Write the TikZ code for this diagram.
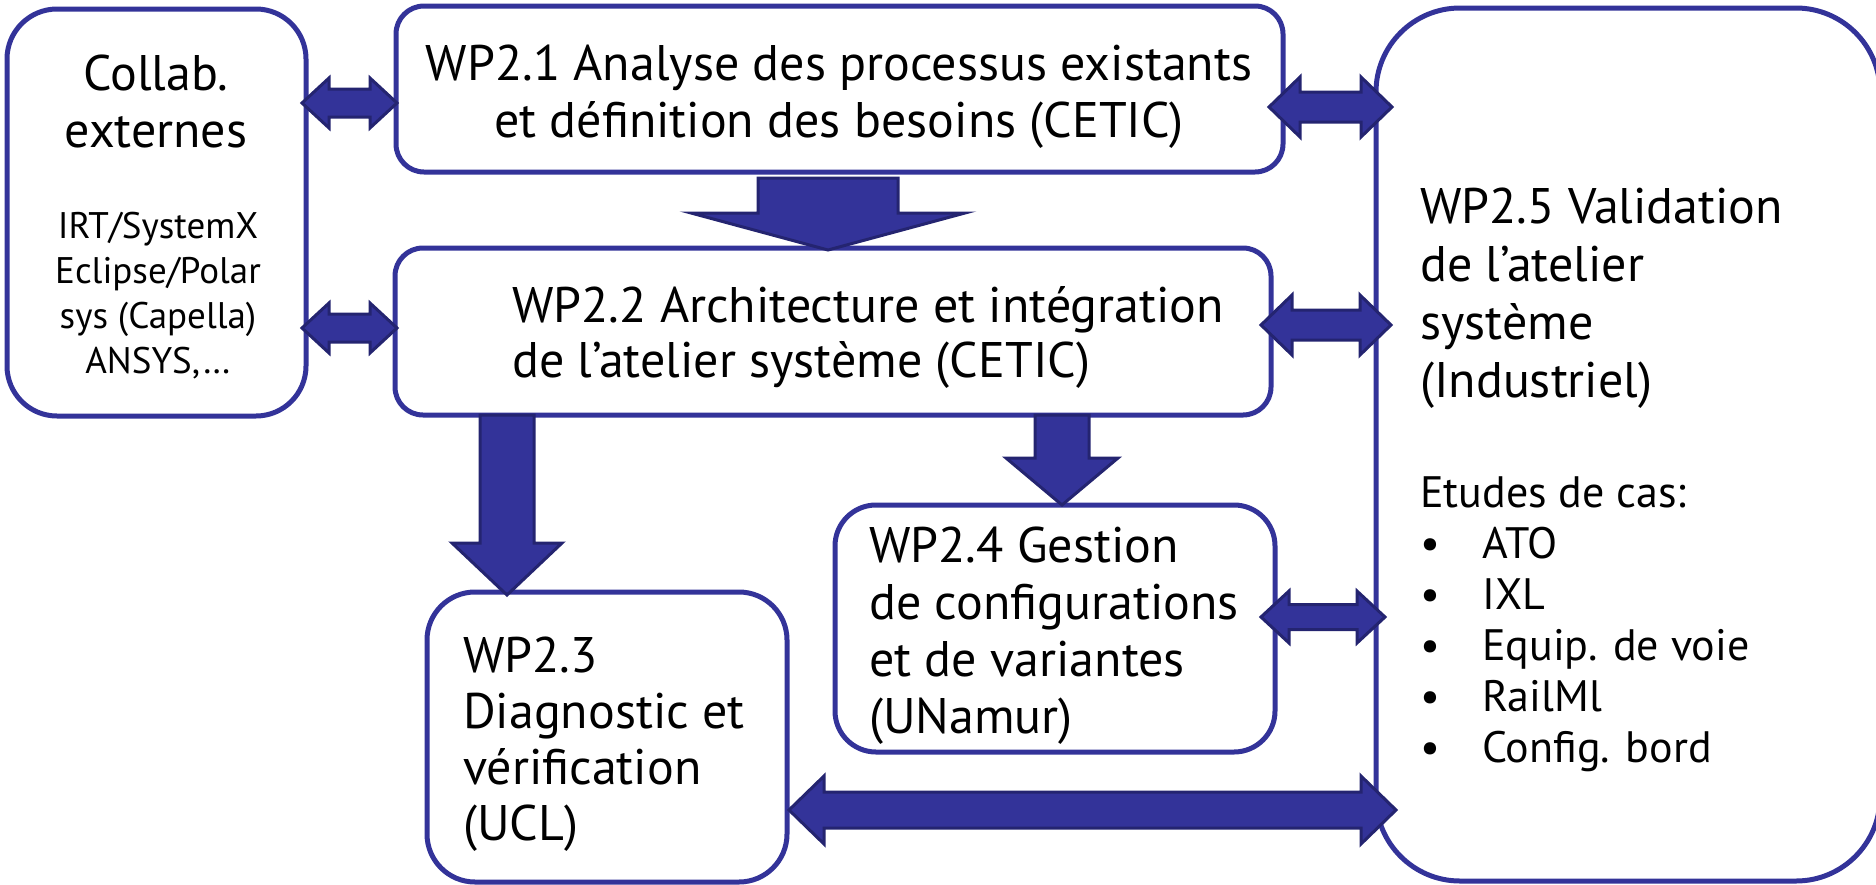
\documentclass[tikz,border=0pt]{standalone}
\usepackage{fontspec}
\setmainfont{PT Sans}
\usetikzlibrary{calc}
\definecolor{wpblue}{RGB}{51,51,153}
\definecolor{wpedge}{RGB}{36,36,112}

\tikzset{
  wpbox/.style={rectangle, draw=wpblue, line width=5pt, fill=white,
    inner sep=0pt, outer sep=0pt},
  blockarrow/.style={fill=wpblue, draw=wpedge, line width=3pt, line join=miter},
  bigtext/.style={inner sep=0pt, font=\fontsize{50}{57}\selectfont},
  smalltext/.style={inner sep=0pt, font=\fontsize{37}{45}\selectfont},
  listtext/.style={inner sep=0pt, font=\fontsize{44}{51}\selectfont},
}

% horizontal double block arrow: #1 left tip, #2 right tip,
% #3 half shaft, #4 half head, #5 head length
\newcommand{\dblockarrow}[5]{%
  \filldraw[blockarrow] (#1) -- ($(#1)+(#5,-#4)$) -- ($(#1)+(#5,-#3)$)
    -- ($(#2)+(-#5,-#3)$) -- ($(#2)+(-#5,-#4)$) -- (#2)
    -- ($(#2)+(-#5,#4)$) -- ($(#2)+(-#5,#3)$)
    -- ($(#1)+(#5,#3)$) -- ($(#1)+(#5,#4)$) -- cycle;}

% downward block arrow: #1 top of shaft, #2 tip,
% #3 half shaft, #4 half head, #5 head length
\newcommand{\downblockarrow}[5]{%
  \filldraw[blockarrow] ($(#1)+(-#3,0)$) -- ($(#1)+(#3,0)$)
    -- ($(#2)+(#3,-#5)$) -- ($(#2)+(#4,-#5)$) -- (#2)
    -- ($(#2)+(-#4,-#5)$) -- ($(#2)+(-#3,-#5)$) -- cycle;}

\begin{document}
\begin{tikzpicture}[x=1pt, y=-1pt]
\useasboundingbox (0,0) rectangle (1876,884);

% work-package boxes
\node[wpbox, minimum width=299pt, minimum height=407pt, rounded corners=50pt]
  (collab) at (156.5,212.5) {};
\node[wpbox, minimum width=887pt, minimum height=166pt, rounded corners=28pt]
  (wp21) at (839.5,89) {};
\node[wpbox, minimum width=876pt, minimum height=167pt, rounded corners=28pt]
  (wp22) at (833,331.5) {};
\node[wpbox, minimum width=360pt, minimum height=290pt, rounded corners=48pt]
  (wp23) at (607,737) {};
\node[wpbox, minimum width=440pt, minimum height=247pt, rounded corners=41pt]
  (wp24) at (1055,628.5) {};
\node[wpbox, minimum width=504pt, minimum height=873pt, rounded corners=84pt]
  (wp25) at (1628,444.5) {};

% links with the external partners
\dblockarrow{$(collab.east |- wp21.west)+(-4,14)$}{$(wp21.west)+(1,14)$}{14}{25}{27}
\dblockarrow{$(collab.east |- wp22.west)+(-4,-3.5)$}{$(wp22.west)+(2,-3.5)$}{14}{25}{27}

% links with the validation package
\dblockarrow{$(wp21.east)+(-14,18)$}{$(wp25.west |- wp21.east)+(16,18)$}{15}{30}{31}
\dblockarrow{$(wp22.east)+(-10,-6.5)$}{$(wp25.west |- wp22.east)+(15,-6.5)$}{15}{30}{31}
\dblockarrow{$(wp24.east)+(-14,-11.5)$}{$(wp25.west |- wp24.east)+(9,-11.5)$}{12.5}{26}{28}
\dblockarrow{$(wp23.east)+(2,73)$}{$(wp25.west |- wp23.east)+(20,73)$}{18}{34}{35}

% flow between the packages
\downblockarrow{$(wp21.south)+(-11.5,6)$}{$(wp22.north)+(-5,2)$}{70}{137}{37}
\downblockarrow{$(wp22.south -| wp23.north)+(-100,0)$}{$(wp23.north)+(-100,3)$}{27}{55}{52}
\downblockarrow{$(wp22.south -| wp24.north)+(7,0)$}{$(wp24.north)+(7,0)$}{27}{56}{47}

% texts (each node is placed by the baseline of its last line)
\node[bigtext, align=center, anchor=base] (collabtitle) at (156,147)
  {Collab.\\externes};
\node[smalltext, align=center, anchor=base] (collablist) at (158,373)
  {IRT/SystemX\\Eclipse/Polar\\sys (Capella)\\ANSYS,…};
\node[bigtext, align=center, anchor=base] (wp21text) at (839,137)
  {WP2.1 Analyse des processus existants\\et définition des besoins (CETIC)};
\node[bigtext, font=\fontsize{50}{55}\selectfont, align=left, anchor=base west]
  (wp22text) at (512,377)
  {WP2.2 Architecture et intégration\\de l’atelier système (CETIC)};
\node[bigtext, font=\fontsize{50}{56}\selectfont, align=left, anchor=base west]
  (wp23text) at (463,840)
  {WP2.3\\Diagnostic et\\vérification\\(UCL)};
\node[bigtext, align=left, anchor=base west] (wp24text) at (869,733)
  {WP2.4 Gestion\\de configurations\\et de variantes\\(UNamur)};
\node[bigtext, font=\fontsize{50}{58}\selectfont, align=left, anchor=base west]
  (wp25text) at (1420,397)
  {WP2.5 Validation\\de l’atelier\\système\\(Industriel)};
\node[listtext, align=left, anchor=base west] (wp25list) at (1420,762)
  {Etudes de cas:\\
   \makebox[62pt][l]{•}ATO\\
   \makebox[62pt][l]{•}IXL\\
   \makebox[62pt][l]{•}Equip. de voie\\
   \makebox[62pt][l]{•}RailMl\\
   \makebox[62pt][l]{•}Config. bord};
\end{tikzpicture}
\end{document}
